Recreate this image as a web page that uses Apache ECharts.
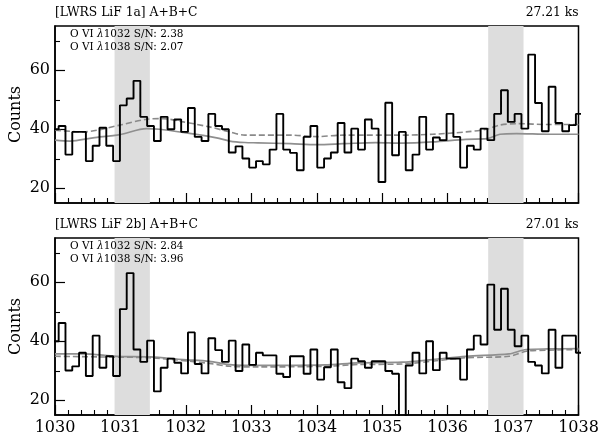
<!DOCTYPE html>
<html>
<head>
<meta charset="utf-8">
<script src="https://cdn.jsdelivr.net/npm/echarts@6/dist/echarts.min.js"></script>
<style>
  html, body { margin: 0; padding: 0; background: #fff; }
  #chart { width: 603px; height: 438px; }
</style>
</head>
<body>
<div id="chart"></div>
<script>
// binning of the spectra (Angstrom)
const binStart = 1029.952;
const binWidth = 0.104;

// counts per bin, LiF 1a
const countsTop = [
  40.0, 41.1, 31.4, 39.1, 39.1, 29.2, 34.4, 40.5, 34.4, 29.2,
  48.1, 50.4, 56.4, 44.2, 41.1, 36.0, 44.2, 40.0, 43.3, 39.1,
  47.2, 37.4, 36.0, 45.2, 41.1, 40.0, 32.1, 34.2, 30.1, 27.0,
  29.2, 28.1, 33.1, 45.2, 33.1, 32.0, 26.1, 37.4, 41.1, 27.0,
  30.1, 32.1, 42.1, 32.1, 40.2, 33.1, 43.3, 40.2, 22.1, 49.0,
  31.2, 39.1, 26.1, 31.4, 44.2, 33.1, 37.2, 36.3, 45.2, 37.4,
  27.0, 34.4, 33.1, 40.2, 36.3, 45.2, 53.2, 42.5, 45.2, 40.2,
  65.3, 48.9, 39.3, 54.4, 42.1, 39.3, 41.4, 45.2
];

// counts per bin, LiF 2b
const countsBottom = [
  40.0, 46.2, 30.1, 31.5, 36.1, 28.2, 41.9, 31.0, 34.9, 28.2,
  50.9, 63.1, 37.2, 33.0, 40.2, 23.0, 31.0, 34.1, 32.7, 29.1,
  43.0, 32.3, 29.1, 41.0, 37.0, 33.0, 40.2, 29.9, 38.9, 32.0,
  36.1, 35.2, 35.2, 29.0, 27.9, 34.9, 34.9, 29.0, 37.2, 27.0,
  31.2, 37.2, 26.1, 24.1, 34.1, 33.2, 31.0, 33.2, 33.2, 29.9,
  29.0, 10.0, 31.8, 36.1, 29.1, 40.0, 30.2, 36.1, 34.1, 34.1,
  27.0, 37.2, 41.9, 38.9, 59.2, 43.9, 57.8, 43.9, 38.3, 41.9,
  33.0, 31.8, 29.1, 43.9, 31.0, 41.9, 41.9, 36.1
];

// background models [wavelength, counts]
const topSolid = [
  [1030.0, 36.3], [1030.23, 36.0], [1030.58, 37.1], [1030.99, 38.2], [1031.4, 40.2],
  [1031.6, 40.0], [1031.96, 38.9], [1032.47, 37.1], [1032.67, 36.0], [1032.9, 35.5],
  [1033.1, 35.4], [1033.6, 35.1], [1034.0, 34.8], [1034.4, 35.1], [1034.9, 35.5],
  [1035.3, 35.3], [1035.77, 35.7], [1036.28, 36.6], [1036.6, 36.8], [1036.8, 38.3],
  [1037.05, 38.5], [1037.55, 38.3], [1038.0, 38.3]
];
const topDashed = [
  [1030.0, 39.7], [1030.43, 39.1], [1030.99, 41.4], [1031.4, 43.4], [1031.65, 43.6],
  [1031.96, 42.5], [1032.36, 40.8], [1032.67, 39.1], [1032.9, 38.0], [1033.6, 38.0],
  [1034.0, 37.5], [1034.4, 38.0], [1035.3, 38.0], [1035.77, 38.3], [1036.28, 39.1],
  [1036.59, 40.0], [1036.79, 41.4], [1037.05, 41.9], [1037.55, 41.6], [1038.0, 41.6]
];
const bottomSolid = [
  [1030.0, 35.7], [1030.43, 35.7], [1030.94, 34.9], [1031.45, 34.7], [1031.96, 33.8],
  [1032.36, 33.2], [1032.67, 32.1], [1033.1, 31.8], [1034.12, 32.0], [1034.63, 32.7],
  [1035.3, 32.9], [1035.77, 33.8], [1036.28, 34.9], [1036.94, 35.7], [1037.2, 37.2],
  [1037.55, 37.4], [1038.0, 37.5]
];
const bottomDashed = [
  [1030.0, 34.9], [1030.94, 34.6], [1031.45, 34.4], [1032.36, 32.5], [1032.67, 31.5],
  [1033.1, 31.3], [1034.12, 31.5], [1034.63, 32.1], [1035.3, 32.3], [1036.28, 34.4],
  [1036.94, 34.9], [1037.2, 36.6], [1037.55, 37.0], [1038.0, 37.2]
];

// O VI line windows
const shadeRanges = [[1030.91, 1031.45], [1036.62, 1037.16]];

const yMajorTicks = [20, 40, 60];
const yMinorTicks = [30, 50, 70];

const panels = [
  { title: '[LWRS LiF 1a] A+B+C', exposure: '27.21 ks', sn: ['2.38', '2.07'],
    counts: countsTop, solid: topSolid, dashed: topDashed },
  { title: '[LWRS LiF 2b] A+B+C', exposure: '27.01 ks', sn: ['2.84', '3.96'],
    counts: countsBottom, solid: bottomSolid, dashed: bottomDashed }
];

const FONT = 'DejaVu Serif';
const gridTops = [26, 238];
const gridH = 177;

function stepData(counts) {
  let pts = counts.map((v, i) => [binStart + i * binWidth, v]);
  pts.push([binStart + counts.length * binWidth, counts[counts.length - 1]]);
  return pts;
}

let grid = [], xAxis = [], yAxis = [], series = [], graphic = [];

panels.forEach((p, k) => {
  grid.push({
    left: 55, right: 24.5, top: gridTops[k], height: gridH,
    outerBoundsMode: 'none', containLabel: false,
    show: true, borderColor: '#000', borderWidth: 1.5, backgroundColor: 'transparent'
  });
  xAxis.push({
    type: 'value', gridIndex: k, min: 1030, max: 1038, interval: 1,
    axisLine: { lineStyle: { color: '#000', width: 1.5 } },
    axisTick: { inside: true, length: 10, lineStyle: { color: '#000', width: 1.2 } },
    minorTick: { show: true, splitNumber: 5, length: 5, lineStyle: { color: '#000', width: 1.1 } },
    splitLine: { show: false },
    axisLabel: {
      show: k === 1, color: '#000', fontFamily: FONT, fontSize: 16, margin: 5,
      showMinLabel: true, showMaxLabel: true,
      formatter: v => String(v)
    }
  });
  yAxis.push({
    type: 'value', gridIndex: k, min: 15, max: 75, position: 'left',
    axisLine: { show: true, lineStyle: { color: '#000', width: 1.5 } },
    axisTick: { inside: true, length: 10, customValues: yMajorTicks, lineStyle: { color: '#000', width: 1.2 } },
    axisLabel: { customValues: yMajorTicks, color: '#000', fontFamily: FONT, fontSize: 16, margin: 5 },
    splitLine: { show: false }
  });
  yAxis.push({
    type: 'value', gridIndex: k, min: 15, max: 75, position: 'left',
    axisLine: { show: false },
    axisTick: { inside: true, length: 5, customValues: yMinorTicks, lineStyle: { color: '#000', width: 1.1 } },
    axisLabel: { show: false },
    splitLine: { show: false }
  });

  // shaded windows
  series.push({
    type: 'line', xAxisIndex: k, yAxisIndex: 2 * k, data: [], z: 1, silent: true,
    markArea: {
      silent: true,
      itemStyle: { color: '#dddddd' },
      data: shadeRanges.map(r => [{ xAxis: r[0] }, { xAxis: r[1] }])
    }
  });
  series.push({
    type: 'line', xAxisIndex: k, yAxisIndex: 2 * k, data: p.solid, z: 2,
    symbol: 'none', smooth: 0.3, lineStyle: { color: '#8f8f8f', width: 1.7 }
  });
  series.push({
    type: 'line', xAxisIndex: k, yAxisIndex: 2 * k, data: p.dashed, z: 2,
    symbol: 'none', smooth: 0.3, lineStyle: { color: '#8a8a8a', width: 1.6, type: [6, 3] }
  });
  series.push({
    type: 'line', xAxisIndex: k, yAxisIndex: 2 * k, data: stepData(p.counts), z: 3,
    symbol: 'none', step: 'end', lineStyle: { color: '#000', width: 1.9 }
  });

  // y axis title
  graphic.push({
    type: 'text', x: 16, y: gridTops[k] + gridH / 2, rotation: Math.PI / 2, z: 100,
    style: {
      text: 'Counts', font: '16px "DejaVu Serif"', fill: '#000',
      align: 'center', verticalAlign: 'middle'
    }
  });
  graphic.push({
    type: 'text', left: 55, top: gridTops[k] - 19, z: 100,
    style: { text: p.title, font: '12.3px "DejaVu Serif"', fill: '#000' }
  });
  graphic.push({
    type: 'text', right: 24.5, top: gridTops[k] - 19, z: 100,
    style: { text: p.exposure, font: '12.3px "DejaVu Serif"', fill: '#000' }
  });
  ['1032', '1038'].forEach((w, j) => {
    graphic.push({
      type: 'text', left: 70, top: gridTops[k] + 3 + j * 13, z: 100,
      style: {
        text: 'O VI {i|λ}' + w + ' S/N: ' + p.sn[j],
        font: '10.5px "DejaVu Serif"', fill: '#000',
        rich: { i: { fontStyle: 'italic', fontFamily: FONT, fontSize: 10.5 } }
      }
    });
  });
});

const chart = echarts.init(document.getElementById('chart'), null, { renderer: 'canvas' });
chart.setOption({
  animation: false,
  backgroundColor: '#fff',
  grid: grid,
  xAxis: xAxis,
  yAxis: yAxis,
  series: series,
  graphic: graphic
});
</script>
</body>
</html>
